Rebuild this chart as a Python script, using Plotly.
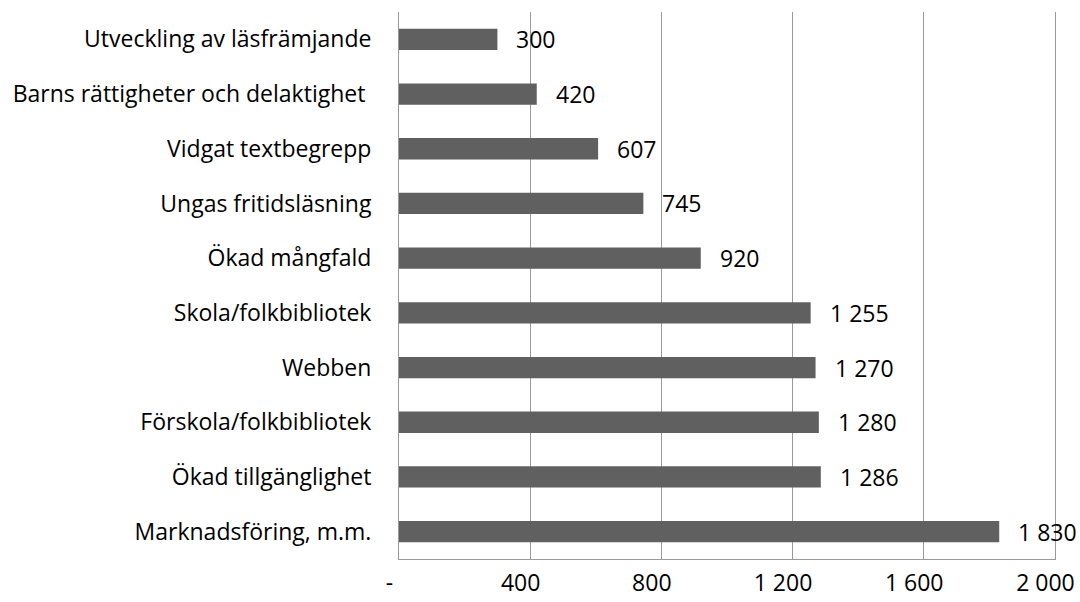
import plotly.graph_objects as go

categories = [
    "Utveckling av läsfrämjande",
    "Barns rättigheter och delaktighet\u00a0",
    "Vidgat textbegrepp",
    "Ungas fritidsläsning",
    "Ökad mångfald",
    "Skola/folkbibliotek",
    "Webben",
    "Förskola/folkbibliotek",
    "Ökad tillgänglighet",
    "Marknadsföring, m.m.",
]
values = [300, 420, 607, 745, 920, 1255, 1270, 1280, 1286, 1830]

tick_vals = [0, 400, 800, 1200, 1600, 2000]
tick_text = ["-", "400", "800", "1 200", "1 600", "2 000"]

font = "'Open Sans', sans-serif"

fig = go.Figure(go.Bar(
    x=values, y=categories, orientation="h",
    marker_color="#606060", marker_line_width=0,
))

# data labels to the right of each bar, space as thousands separator
for cat, v in zip(categories, values):
    fig.add_annotation(
        x=v, y=cat, text=f"{v:,}".replace(",", " "),
        showarrow=False, xanchor="left", xshift=17,
        font=dict(size=23, color="#000000", family=font),
    )

fig.update_layout(
    width=1080,
    height=602,
    bargap=0.61,
    plot_bgcolor="white",
    paper_bgcolor="white",
    showlegend=False,
    font=dict(family=font, size=23, color="#000000"),
    margin=dict(l=399, r=25, t=12, b=43),
)
fig.update_xaxes(
    range=[0, 2000],
    tickvals=tick_vals,
    # accounting-style padding pushes the labels a little left of the gridlines
    ticktext=[t + "\u2007\u00a0" for t in tick_text],
    showgrid=True, gridcolor="#9a9a9a", gridwidth=1,
    showline=True, linecolor="#9a9a9a", linewidth=1,
    zeroline=False, ticks="", ticklabelstandoff=3,
    ticklabeloverflow="allow", automargin=False,
)
fig.update_yaxes(
    autorange="reversed",
    showgrid=False,
    showline=True, mirror=True, linecolor="#9a9a9a", linewidth=1,
    ticks="", ticklabelstandoff=22, automargin=False,
)

# drop the default 8px page margin so the figure fills the window
fig.write_html(
    "out.html",
    config={"displayModeBar": False},
    post_script="document.body.style.margin='0';document.body.style.overflow='hidden';",
)
